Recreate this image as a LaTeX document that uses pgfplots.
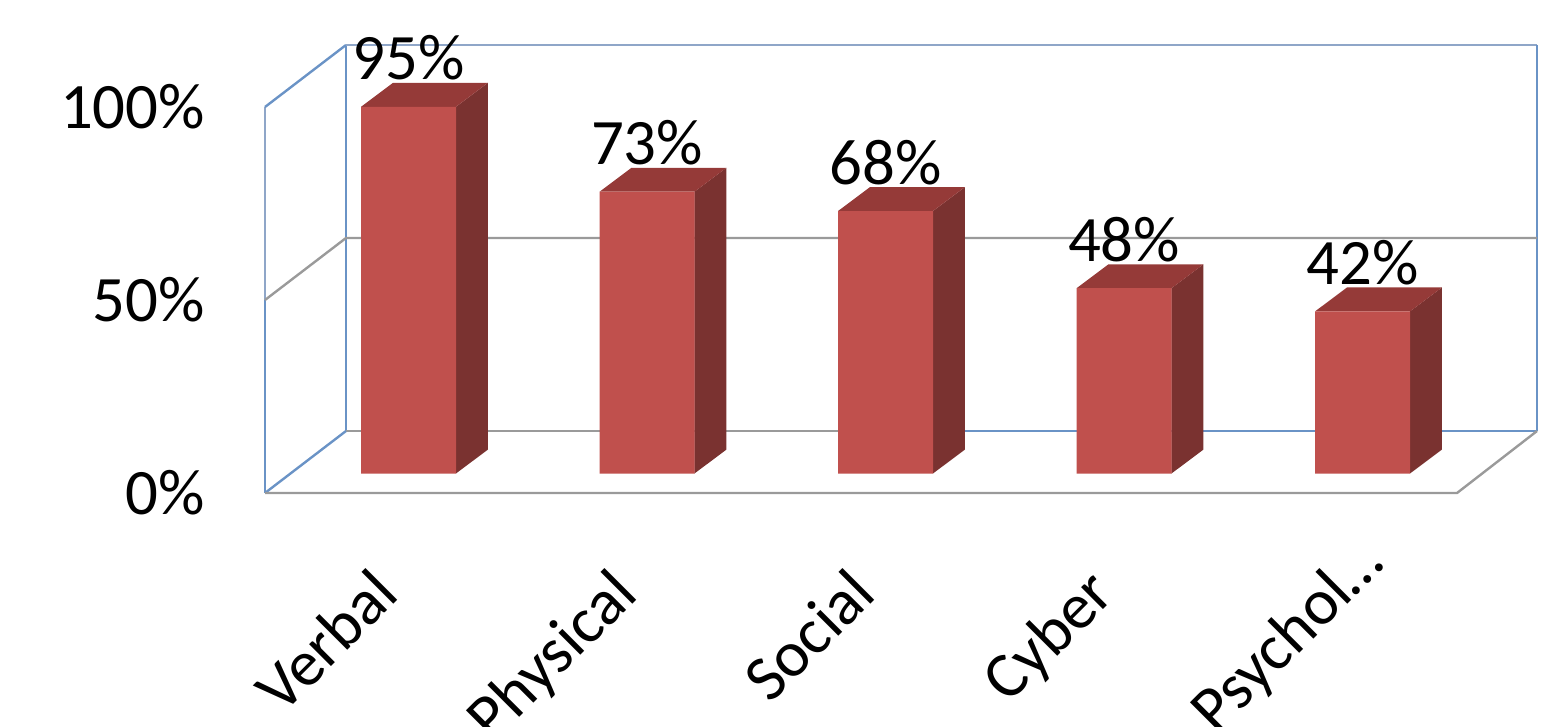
\documentclass[border=0pt]{standalone}
\usepackage{fontspec}
\setmainfont{Carlito}
\usepackage{pgfplots}
\pgfplotsset{compat=1.18}

\definecolor{barfront}{HTML}{C0504D}
\definecolor{bartop}{HTML}{953A38}
\definecolor{barside}{HTML}{7A3230}
\definecolor{wallblue}{HTML}{6A93C6}
\definecolor{wallgrey}{HTML}{9A9A9A}
\definecolor{walltop}{HTML}{8FA6C8}

\newcommand{\chartfont}{\fontsize{32.4}{38}\selectfont}

\begin{document}
\begin{tikzpicture}
\useasboundingbox (0,0) rectangle (778pt,363.5pt);
\clip (0,0) rectangle (778pt,363.5pt);
\begin{axis}[
    at={(0,0)},
    anchor=south west,
    scale only axis,
    width=778pt,
    height=363.5pt,
    xmin=-1.7128, xmax=4.8113,
    ymin=-60.62, ymax=127.72,
    clip=false,
    axis line style={draw=none},
    major tick length=0pt,
    xtick={0,1,2,3,4},
    xticklabels={Verbal,Physical,Social,Cyber,Psychol…\kern-22pt},
    ytick={0,50,100},
    yticklabels={0\%,50\%,100\%},
    tick label style={font=\chartfont},
    xticklabel style={yshift=86pt,xshift=-19.5pt,rotate=45,anchor=north east},
    yticklabel style={xshift=106pt,anchor=east},
]
% walls
\addplot[wallblue, line width=1.2pt] coordinates {(-0.6017,50) (-0.6017,0)};
\addplot[walltop, line width=1.2pt] coordinates {(-0.6017,100) (-0.6017,50)};
\addplot[wallblue, line width=1.2pt] coordinates {(-0.6017,100) (-0.2621,116.06)};
\addplot[wallblue, line width=1.2pt] coordinates {(-0.2621,116.06) (-0.2621,16.06)};
\addplot[walltop, line width=1.2pt] coordinates {(-0.2621,116.06) (4.7317,116.06)};
\addplot[wallblue, line width=1.2pt] coordinates {(4.7317,116.06) (4.7317,16.06)};
\addplot[wallgrey, line width=1.2pt] coordinates {(-0.6017,50) (-0.2621,66.06) (4.7317,66.06)};
\addplot[wallgrey, line width=1.2pt] coordinates {(-0.2621,16.06) (2.27,16.06)};
\addplot[wallblue, line width=1.2pt] coordinates {(2.27,16.06) (4.7317,16.06)};
\addplot[wallblue, line width=1.2pt] coordinates {(-0.6017,0) (-0.2621,16.06)};
\addplot[wallgrey, line width=1.2pt] coordinates {(-0.6017,0) (4.3962,0) (4.7317,16.06)};

% bar sides
\addplot[fill=barside, draw=none, yshift=9.75pt] coordinates {(0.199,95) (0.333,101.2) (0.333,6.2) (0.199,0)} -- cycle;
\addplot[fill=barside, draw=none, yshift=9.75pt] coordinates {(1.199,73) (1.333,79.2) (1.333,6.2) (1.199,0)} -- cycle;
\addplot[fill=barside, draw=none, yshift=9.75pt] coordinates {(2.199,68) (2.333,74.2) (2.333,6.2) (2.199,0)} -- cycle;
\addplot[fill=barside, draw=none, yshift=9.75pt] coordinates {(3.199,48) (3.333,54.2) (3.333,6.2) (3.199,0)} -- cycle;
\addplot[fill=barside, draw=none, yshift=9.75pt] coordinates {(4.199,42) (4.333,48.2) (4.333,6.2) (4.199,0)} -- cycle;
% bar tops
\addplot[fill=bartop, draw=none, yshift=9.75pt] coordinates {(-0.199,95) (0.199,95) (0.333,101.2) (-0.065,101.2)} -- cycle;
\addplot[fill=bartop, draw=none, yshift=9.75pt] coordinates {(0.801,73) (1.199,73) (1.333,79.2) (0.935,79.2)} -- cycle;
\addplot[fill=bartop, draw=none, yshift=9.75pt] coordinates {(1.801,68) (2.199,68) (2.333,74.2) (1.935,74.2)} -- cycle;
\addplot[fill=bartop, draw=none, yshift=9.75pt] coordinates {(2.801,48) (3.199,48) (3.333,54.2) (2.935,54.2)} -- cycle;
\addplot[fill=bartop, draw=none, yshift=9.75pt] coordinates {(3.801,42) (4.199,42) (4.333,48.2) (3.935,48.2)} -- cycle;
% bar fronts
\addplot[ybar, bar width=47.5pt, fill=barfront, draw=none, yshift=9.75pt,
    nodes near coords={\pgfmathprintnumber[assume math mode=true]{\pgfplotspointmeta}\%},
    every node near coord/.append style={font=\chartfont, text=black, anchor=base, yshift=13.5pt},
] coordinates {(0,95) (1,73) (2,68) (3,48) (4,42)};
\end{axis}
\end{tikzpicture}
\end{document}
